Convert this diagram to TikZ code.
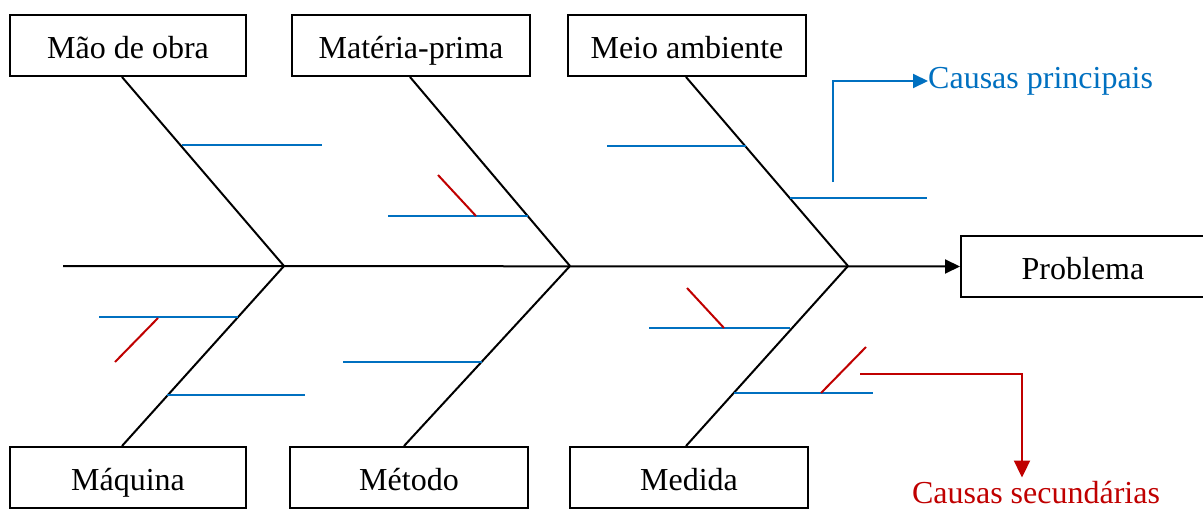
\documentclass[tikz,border=0pt]{standalone}
\usepackage{fontspec}
\setmainfont{Liberation Serif}
\usetikzlibrary{arrows.meta,calc}
\definecolor{cblue}{HTML}{0070C0}
\definecolor{cred}{HTML}{C00000}
\begin{document}
\begin{tikzpicture}[x=1pt,y=-1pt,
  catbox/.style={draw=black,line width=2pt,minimum width=236pt,minimum height=61pt,inner sep=0pt,text height=27pt,text depth=2pt,font=\fontsize{32}{38}\selectfont},
  bone/.style={black,line width=2pt},
  cause/.style={cblue,line width=2pt},
  sub/.style={cred,line width=2pt},
  lbl/.style={inner sep=0pt,font=\fontsize{32}{38}\selectfont}]
\clip (0,0) rectangle (1203,509);
\fill[white] (0,0) rectangle (1203,509);
% boxes
\node[catbox] (mao) at (128,45.5) {Mão de obra};
\node[catbox,minimum width=238pt] (mat) at (411,45.5) {Matéria-prima};
\node[catbox,minimum width=238pt] (meio) at (687,45.5) {Meio ambiente};
\node[catbox,minimum width=244pt] (prob) at (1083,266.5) {Problema};
\node[catbox] (maq) at (128,477.5) {Máquina};
\node[catbox,minimum width=238pt] (met) at (409,477.5) {Método};
\node[catbox,minimum width=238pt] (med) at (689,477.5) {Medida};
% spine
\coordinate (tail) at (63,266);
\coordinate (j1) at (284,266);
\coordinate (j2) at (570,266);
\coordinate (j3) at (848,266);
\draw[bone,-{Triangle[length=15pt,width=14pt]}] (tail) -- (prob.west);
% bones
\draw[bone] ($(mao.south)+(-6,0)$) -- (j1);
\draw[bone] ($(mat.south)+(-1,0)$) -- (j2);
\draw[bone] ($(meio.south)+(-1,0)$) -- (j3);
\draw[bone] ($(maq.north)+(-6,0)$) -- (j1);
\draw[bone] ($(met.north)+(-5,0)$) -- (j2);
\draw[bone] ($(med.north)+(-3,0)$) -- (j3);
% main causes
\draw[cause] (182,145) -- (322,145);
\draw[cause] (388,216) -- (528,216);
\draw[cause] (607,146) -- (746,146);
\draw[cause] (790,198) -- (927,198);
\draw[cause] (99,317) -- (238,317);
\draw[cause] (167,395) -- (305,395);
\draw[cause] (343,362) -- (482,362);
\draw[cause] (649,328) -- (790,328);
\draw[cause] (734,393) -- (873,393);
% secondary causes
\draw[sub] (438,175) -- (476,216);
\draw[sub] (158,318) -- (115,362);
\draw[sub] (687,288) -- (724,328);
\draw[sub] (821,393) -- (866,347);
% legend
\node[lbl,anchor=west,text=cblue] (princ) at (928,81) {Causas principais};
\coordinate (pstart) at (833,182);
\draw[cause,-{Triangle[length=15pt,width=14pt]}] (pstart) |- (princ.west);
\node[lbl,anchor=base,text=cred] (sec) at (1036,503) {Causas secundárias};
\coordinate (sstart) at (860,374);
\draw[sub,-{Triangle[length=17pt,width=16pt]}] (sstart) -| ($(sec.north)+(-14,-3)$);
\end{tikzpicture}
\end{document}
